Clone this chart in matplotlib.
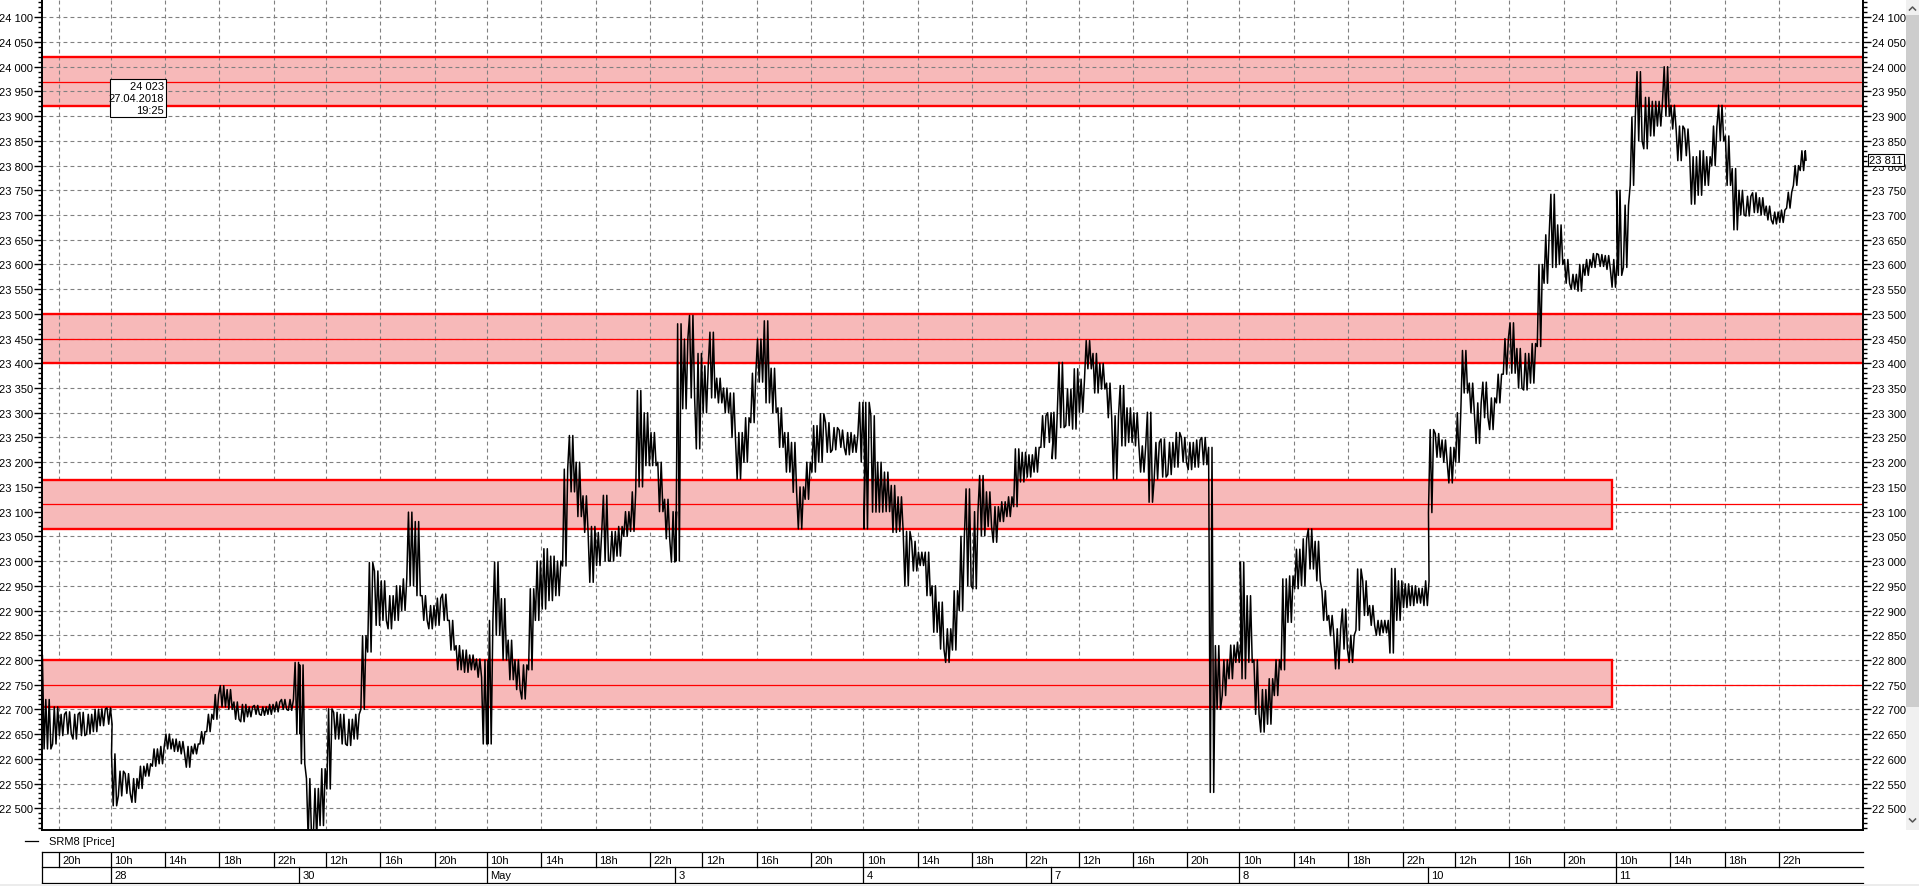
import matplotlib
matplotlib.use("Agg")
import matplotlib.pyplot as plt
from matplotlib.ticker import MultipleLocator, FuncFormatter
from matplotlib.patches import Rectangle
from matplotlib.lines import Line2D
from matplotlib.transforms import blended_transform_factory

plt.rcParams['font.family'] = ['Liberation Sans', 'DejaVu Sans']
plt.rcParams['font.size'] = 8

W, H, DPI = 1919, 887, 100

# ---------------- data ----------------
SESSION_LEN = 13.0 + 50 / 60.0      # trading hours 10:00 - 23:50
BIN = 0.5                            # half-hour bins (low, high)

session_labels = ['', '28', '30', 'May', '3', '4', '7', '8', '10', '11']
tick_hours = [[20], [10, 14, 18, 22], [12, 16, 20], [10, 14, 18, 22], [12, 16, 20],
              [10, 14, 18, 22], [12, 16, 20], [10, 14, 18, 22], [12, 16, 20], [10, 14, 18, 22]]

apr27_first_bin = 17
apr27 = [(22620, 22810), (22620, 22720), (22630, 22705), (22647, 22690), (22650, 22695),
         (22640, 22690), (22647, 22694), (22650, 22690), (22655, 22700), (22667, 22701),
         (22670, 22703)]
apr28 = [(22505, 22610), (22525, 22575), (22530, 22570), (22512, 22560), (22540, 22585),
         (22565, 22590), (22585, 22620), (22590, 22625), (22620, 22650), (22615, 22640),
         (22610, 22635), (22583, 22625), (22610, 22630), (22630, 22655), (22655, 22690),
         (22680, 22730), (22705, 22748), (22700, 22740), (22680, 22715), (22675, 22710),
         (22685, 22705), (22690, 22708), (22688, 22705), (22690, 22710), (22695, 22715),
         (22700, 22720), (22698, 22720), (22650, 22795)]
apr30 = [(22590, 22790), (22440, 22560), (22440, 22540), (22465, 22580), (22539, 22701),
         (22640, 22694), (22630, 22690), (22627, 22680), (22640, 22690), (22700, 22849),
         (22816, 22997), (22870, 22980), (22880, 22960), (22863, 22930), (22880, 22950),
         (22900, 22964), (22950, 23099), (22930, 23080), (22880, 22930), (22863, 22910),
         (22870, 22925), (22880, 22933), (22820, 22880), (22780, 22829), (22775, 22820),
         (22780, 22810), (22765, 22802), (22630, 22800)]
may02 = [(22630, 22880), (22850, 22998), (22800, 22924), (22760, 22840), (22740, 22800),
         (22721, 22790), (22780, 22944), (22880, 23000), (22903, 23025), (22920, 23010),
         (22930, 23000), (22990, 23186), (23140, 23254), (23090, 23200), (23058, 23132),
         (22957, 23070), (22991, 23058), (23000, 23133), (23000, 23060), (23010, 23070),
         (23050, 23100), (23060, 23140), (23150, 23345), (23193, 23300), (23193, 23260),
         (23100, 23200), (23045, 23125), (22998, 23100)]
may03 = [(23000, 23480), (23308, 23449), (23330, 23497), (23227, 23420), (23300, 23395),
         (23330, 23463), (23320, 23370), (23300, 23350), (23250, 23340), (23166, 23260),
         (23200, 23290), (23280, 23380), (23362, 23449), (23320, 23486), (23300, 23390),
         (23230, 23310), (23180, 23260), (23139, 23240), (23065, 23150), (23125, 23200),
         (23180, 23274), (23200, 23298), (23220, 23280), (23225, 23270), (23230, 23265),
         (23215, 23260), (23220, 23255), (23200, 23321)]
may04 = [(23065, 23321), (23099, 23294), (23099, 23200), (23100, 23180), (23058, 23153),
         (23060, 23130), (22950, 23060), (22980, 23040), (22991, 23018), (22930, 23018),
         (22856, 22950), (22822, 22917), (22795, 22863), (22820, 22940), (22900, 23050),
         (22950, 23146), (22944, 23100), (23051, 23173), (23070, 23140), (23038, 23110),
         (23080, 23120), (23090, 23130), (23110, 23227), (23160, 23220), (23170, 23215),
         (23180, 23230), (23230, 23294), (23240, 23300)]
may07 = [(23207, 23301), (23270, 23402), (23274, 23348), (23267, 23389), (23301, 23368),
         (23389, 23446), (23340, 23420), (23348, 23400), (23290, 23360), (23166, 23294),
         (23233, 23355), (23240, 23310), (23233, 23300), (23180, 23233), (23119, 23301),
         (23166, 23240), (23170, 23247), (23175, 23240), (23190, 23260), (23200, 23250),
         (23185, 23240), (23190, 23245), (23195, 23250), (22532, 23230), (22700, 22829),
         (22728, 22800), (22762, 22830), (22795, 22836)]
may08 = [(22762, 22998), (22795, 22930), (22690, 22800), (22654, 22740), (22670, 22762),
         (22728, 22800), (22780, 22964), (22876, 22970), (22944, 23024), (22950, 23045),
         (22984, 23065), (22960, 23040), (22880, 22940), (22849, 22890), (22782, 22863),
         (22822, 22903), (22795, 22850), (22860, 22984), (22890, 22960), (22870, 22910),
         (22850, 22880), (22855, 22880), (22814, 22985), (22880, 22960), (22906, 22954),
         (22910, 22950), (22915, 22945), (22910, 22960)]
may10 = [(23098, 23266), (23210, 23258), (23200, 23245), (23158, 23230), (23200, 23300),
         (23340, 23426), (23300, 23360), (23238, 23320), (23290, 23362), (23266, 23330),
         (23320, 23378), (23378, 23450), (23380, 23482), (23350, 23430), (23346, 23420),
         (23360, 23440), (23434, 23600), (23562, 23660), (23594, 23742), (23600, 23680),
         (23562, 23610), (23550, 23580), (23546, 23600), (23578, 23610), (23594, 23622),
         (23596, 23620), (23590, 23618), (23554, 23610)]
may11 = [(23578, 23750), (23594, 23720), (23760, 23898), (23850, 23990), (23834, 23938),
         (23860, 23930), (23880, 23930), (23900, 24000), (23874, 23922), (23810, 23880),
         (23820, 23874), (23722, 23818), (23740, 23830), (23760, 23818), (23800, 23880),
         (23850, 23922), (23760, 23860), (23670, 23794), (23700, 23750), (23698, 23738),
         (23705, 23745), (23700, 23735), (23690, 23718), (23682, 23706), (23685, 23710),
         (23714, 23746), (23760, 23800), (23790, 23830)]
LAST_PRICE = 23811

sessions = [apr27, apr28, apr30, may02, may03, may04, may07, may08, may10, may11]
first_bins = [apr27_first_bin] + [0] * 9

# zones: (low, mid, high, extends to right edge)
zone_low = [23920, 23400, 23065, 22705]
zone_mid = [23970, 23450, 23115, 22750]
zone_high = [24020, 23500, 23165, 22800]
zone_full = [True, True, False, False]

cursor_text = ['24 023', '27.04.2018', '19:25']

# ---------------- build the path (each bin swings between its low and high) ----------------
bins = []
for d, (sess, fb) in enumerate(zip(sessions, first_bins)):
    for k, (lo, hi) in enumerate(sess):
        bins.append((d * SESSION_LEN + (fb + k) * BIN, lo, hi))
xs, ys = [], []
for i, (t0, lo, hi) in enumerate(bins):
    mid = (lo + hi) / 2
    nxt = (bins[i + 1][1] + bins[i + 1][2]) / 2 if i + 1 < len(bins) else LAST_PRICE
    a, b = (lo, hi) if nxt >= mid else (hi, lo)
    for j, v in enumerate((a, b, a, b)):
        xs.append(t0 + BIN * (2 * j + 1) / 8.0)
        ys.append(v)
xs.append(bins[-1][0] + BIN * 0.98)
ys.append(LAST_PRICE)

# ---------------- figure ----------------
fig = plt.figure(figsize=(W / DPI, H / DPI), dpi=DPI)
fig.patch.set_facecolor('white')

def fx(px):
    return px / W

def fy(py):
    return 1 - py / H

PL, PR, PB, PT = 42.4, 1862.6, 831.0, 0.0
ax = fig.add_axes([fx(PL), fy(PB), (PR - PL) / W, (PB - PT) / H])
X0, X1 = 8.813, 142.65
ax.set_xlim(X0, X1)
ax.set_ylim(22456, 24137)

# x ticks (grid) positions
xt, xt_lab = [], []
for d, hrs in enumerate(tick_hours):
    for h in hrs:
        xt.append(d * SESSION_LEN + (h - 10))
        xt_lab.append(f'{h}h')
ax.set_xticks(xt)
ax.tick_params(axis='x', length=0, labelbottom=False)

ax.yaxis.set_major_locator(MultipleLocator(50))
ax.yaxis.set_minor_locator(MultipleLocator(10))
ax.yaxis.set_major_formatter(FuncFormatter(lambda v, p: f"{int(round(v)):,}".replace(',', ' ')))
ax.tick_params(axis='y', which='both', direction='out', left=True, right=True,
               labelleft=True, labelright=True, width=1, colors='black', labelsize=8)
ax.tick_params(axis='y', which='major', length=5.8, pad=0.8)
ax.tick_params(axis='y', which='minor', length=2.9)

ax.grid(True, which='major', axis='both', color='#808080', lw=0.8, ls=(0, (3.5, 2.8)))
for s in ['left', 'right', 'bottom']:
    ax.spines[s].set_linewidth(1.4)
    ax.spines[s].set_color('black')
ax.spines['top'].set_visible(False)

FILL = '#f7b9b9'
box_end = 9 * SESSION_LEN - 0.25
for lo, mid, hi, full in zip(zone_low, zone_mid, zone_high, zone_full):
    if full:
        ax.axhspan(lo, hi, color=FILL, lw=0, zorder=1)
        ax.axhline(lo, color='red', lw=1.7, zorder=2)
        ax.axhline(hi, color='red', lw=1.7, zorder=2)
    else:
        ax.add_patch(Rectangle((X0 - 5, lo), box_end - (X0 - 5), hi - lo, fc=FILL,
                               ec='red', lw=1.7, zorder=1.9))
    ax.axhline(mid, color='red', lw=0.9, zorder=2)

ax.plot(xs, ys, color='black', lw=1.1, zorder=3, clip_on=True)

# last price label on the right axis
tr = blended_transform_factory(ax.transAxes, ax.transData)
ax.text(1.0037, LAST_PRICE, f"{LAST_PRICE:,}".replace(',', ' '), transform=tr,
        ha='left', va='center', fontsize=8, zorder=5, clip_on=False,
        bbox=dict(boxstyle='square,pad=0.12', fc='white', ec='black', lw=0.8))

# cursor box (top-left)
fig.patches.append(Rectangle((fx(110), fy(117.7)), 55.7 / W, 37.4 / H,
                             transform=fig.transFigure, fc='white', ec='black', lw=0.8, zorder=10))
for i, t in enumerate(cursor_text):
    fig.text(fx(164), fy(87.5 + 11.8 * i), t, ha='right', va='center', fontsize=8, zorder=11)

# legend
fig.add_artist(Line2D([fx(24.5), fx(38)], [fy(842), fy(842)], color='black', lw=0.9))
fig.text(fx(49), fy(842), 'SRM8 [Price]', ha='left', va='center', fontsize=8)

# time table
tab = fig.add_axes([fx(PL), fy(883.5), (PR - PL) / W, 30.5 / H])
tab.set_xlim(X0, X1)
tab.set_ylim(0, 2)
tab.axis('off')
for yv in (0, 1, 2):
    tab.plot([X0, X1], [yv, yv], color='black', lw=0.9, clip_on=False)
tab.plot([X0, X0], [0, 2], color='black', lw=0.9, clip_on=False)
for x, lab in zip(xt, xt_lab):
    tab.plot([x, x], [1, 2], color='black', lw=0.9)
    tab.text(x + 0.25, 1.5, lab, ha='left', va='center', fontsize=8)
for d, lab in enumerate(session_labels):
    if lab:
        x = d * SESSION_LEN
        tab.plot([x, x], [0, 1], color='black', lw=0.9)
        tab.text(x + 0.25, 0.5, lab, ha='left', va='center', fontsize=8)

# scrollbar on the right and bottom strip
fig.patches.append(Rectangle((fx(1906), fy(831)), 13 / W, 831 / H, transform=fig.transFigure,
                             fc='#f0f0f0', ec='none'))
fig.patches.append(Rectangle((fx(1906), fy(708)), 13 / W, (708 - 16) / H, transform=fig.transFigure,
                             fc='#cdcdcd', ec='none'))
fig.add_artist(Line2D([fx(1909.5), fx(1912.5), fx(1915.5)], [fy(11), fy(8), fy(11)],
                      color='#555555', lw=1.1))
fig.add_artist(Line2D([fx(1909.5), fx(1912.5), fx(1915.5)], [fy(820), fy(823), fy(820)],
                      color='#555555', lw=1.1))
fig.patches.append(Rectangle((0, 0), 1, 2.2 / H, transform=fig.transFigure,
                             fc='#ececec', ec='none'))

fig.savefig('out.png', dpi=DPI)
